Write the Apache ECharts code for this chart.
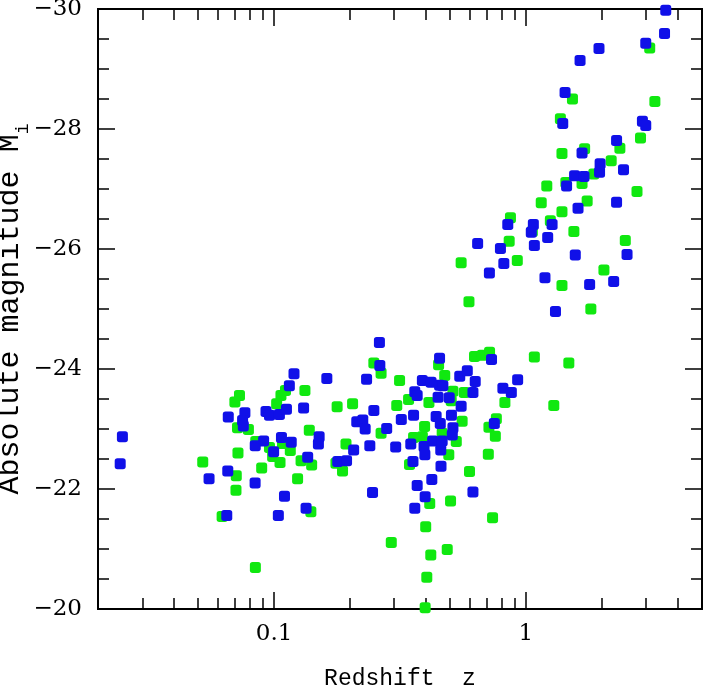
<!DOCTYPE html>
<html>
<head>
<meta charset="utf-8">
<script src="https://cdn.jsdelivr.net/npm/echarts@6/dist/echarts.min.js"></script>
<style>
    html, body { margin: 0; padding: 0; background: #ffffff; }
    #chart { width: 704px; height: 686px; }
</style>
</head>
<body>
<div id="chart"></div>
<script>
    // blue sample: redshift and absolute magnitude
    var blueZ = [0.0250, 0.0245, 0.120, 0.115, 0.0766, 0.0658, 0.0750, 0.0755, 0.0929, 0.0959,
        0.105, 0.112, 0.131, 0.107, 0.117, 0.0909, 0.0842, 0.0996, 0.136, 0.0655,
        0.0552, 0.0841, 0.110, 0.134, 0.104, 0.0649,
        0.151, 0.150, 0.162, 0.179, 0.194, 0.207, 0.213, 0.225, 0.230, 0.233,
        0.249, 0.240, 0.262, 0.263, 0.246, 0.280, 0.304, 0.320, 0.358, 0.349,
        0.356, 0.362, 0.370, 0.388, 0.420, 0.454, 0.468, 0.454, 0.394, 0.397,
        0.440, 0.457, 0.426, 0.465, 0.459, 0.460, 0.448, 0.496, 0.506, 0.513,
        0.510, 0.553, 0.546, 0.585, 0.629, 0.616, 0.423, 0.370, 0.398, 0.362,
        0.616, 0.730, 0.810, 0.875, 0.927, 0.749,
        3.59, 3.55, 2.99, 1.95, 1.64, 1.43, 1.40, 2.90, 2.99, 2.29,
        1.67, 1.97, 1.96, 1.56, 1.70, 2.44, 1.45, 1.61, 2.29, 1.27,
        0.847, 1.07, 1.05, 1.22, 1.08, 0.643, 0.792, 0.817, 0.716, 1.57,
        2.52, 1.19, 1.79, 2.23, 1.31];
    var blueM = [-22.87, -22.42, -23.92, -23.72, -23.27, -23.20, -23.14, -23.05, -23.29, -23.23,
        -23.24, -23.33, -23.35, -22.86, -22.78, -22.80, -22.72, -22.62, -22.53, -22.30,
        -22.17, -22.10, -21.88, -21.68, -21.56, -21.56,
        -22.87, -22.75, -23.84, -22.46, -22.47, -22.65, -23.12, -23.15, -23.00, -23.83,
        -23.31, -22.72, -24.44, -24.06, -21.94, -23.01, -22.70, -23.16, -23.23, -22.75,
        -22.46, -23.62, -23.56, -23.81, -23.78, -23.73, -23.72, -24.18, -22.71, -22.57,
        -23.21, -23.09, -22.80, -22.80, -22.65, -22.38, -23.53, -23.52, -23.23, -23.02,
        -22.90, -23.38, -23.88, -23.97, -23.79, -23.61, -22.16, -22.06, -21.87, -21.68,
        -21.95, -24.16, -23.68, -23.61, -23.82, -23.09,
        -29.98, -29.59, -29.43, -29.34, -29.14, -28.61, -28.09, -28.13, -28.06, -27.81,
        -27.60, -27.42, -27.28, -27.22, -27.21, -27.32, -27.05, -26.68, -26.78, -26.41,
        -26.41, -26.41, -26.28, -26.19, -26.06, -26.09, -26.01, -25.76, -25.60, -25.90,
        -25.91, -25.52, -25.41, -25.46, -24.96];

    // green sample
    var greenZ = [0.0729, 0.0699, 0.111, 0.1065, 0.1024, 0.1326, 0.0716, 0.0791, 0.138, 0.0846,
        0.0959, 0.0987, 0.1056, 0.116, 0.108, 0.0719, 0.0521, 0.0893, 0.0708, 0.0706,
        0.124, 0.128, 0.0622, 0.0843,
        0.141, 0.140, 0.178, 0.205, 0.193, 0.176, 0.187, 0.249, 0.266, 0.266,
        0.315, 0.307, 0.342, 0.292, 0.345, 0.358, 0.388, 0.396, 0.412, 0.450,
        0.476, 0.465, 0.513, 0.505, 0.558, 0.529, 0.494, 0.569, 0.625, 0.671,
        0.717, 0.597, 0.502, 0.415, 0.400, 0.419, 0.487, 0.404, 0.398, 0.709,
        0.763, 0.713, 0.756, 0.737, 0.825, 1.08, 1.48, 1.29,
        3.10, 1.53, 3.25, 1.37, 2.85, 2.36, 1.71, 1.39, 2.18, 1.86,
        1.67, 1.44, 1.21, 2.76, 1.15, 1.75, 1.39, 0.868, 1.25, 1.06,
        1.55, 0.858, 2.48, 0.924, 0.553, 2.04, 1.39, 0.594, 1.81];
    var greenM = [-23.56, -23.45, -23.64, -23.56, -23.42, -23.64, -23.02, -22.99, -22.98, -22.79,
        -22.69, -22.54, -22.44, -22.64, -22.76, -22.60, -22.45, -22.35, -22.22, -21.98,
        -22.17, -22.47, -21.54, -20.69,
        -22.40, -21.62, -23.37, -23.42, -22.75, -22.43, -22.30, -24.10, -23.93, -22.93,
        -23.81, -23.39, -23.49, -21.11, -22.41, -22.86, -22.87, -23.04, -23.44, -24.07,
        -23.89, -22.93, -23.63, -23.47, -23.13, -22.79, -22.57, -23.61, -24.21, -24.23,
        -24.28, -22.29, -21.80, -21.76, -21.37, -20.90, -20.99, -20.53, -20.02, -22.58,
        -23.17, -23.03, -22.88, -21.52, -23.44, -24.20, -24.10, -23.39,
        -29.35, -28.50, -28.46, -28.17, -27.85, -27.68, -27.67, -27.59, -27.47, -27.25,
        -27.09, -27.11, -27.05, -26.96, -26.77, -26.80, -26.62, -26.52, -26.47, -26.29,
        -26.29, -26.13, -26.14, -25.81, -25.77, -25.65, -25.39, -25.12, -25.00];

    // axis ticks
    var majorZ = [0.1, 1];
    var minorZ = [0.03, 0.04, 0.05, 0.06, 0.07, 0.08, 0.09,
        0.2, 0.3, 0.4, 0.5, 0.6, 0.7, 0.8, 0.9, 2, 3, 4];
    var xLabels = ['0.1', '1'];

    function zip(xs, ys) {
        var out = [];
        for (var i = 0; i < xs.length; i++) {
            out.push([xs[i], ys[i]]);
        }
        return out;
    }

    var tickFont = 'DejaVu Serif';
    var titleFont = 'Liberation Mono';

    function makeX(pos, ticks, len, withLabel) {
        return {
            type: 'log',
            logBase: 10,
            min: 0.02,
            max: 5,
            position: pos,
            axisLine: { show: true, lineStyle: { color: '#000', width: 2 } },
            axisTick: {
                show: true, inside: true, length: len, customValues: ticks,
                lineStyle: { color: '#000', width: 1.5 }
            },
            minorTick: { show: false },
            splitLine: { show: false },
            axisLabel: withLabel ? {
                customValues: majorZ,
                formatter: function (v) {
                    var k = majorZ.indexOf(Number(v));
                    return k >= 0 ? xLabels[k] : '';
                },
                fontFamily: tickFont, fontSize: 23, color: '#000', margin: 14
            } : { show: false }
        };
    }

    function makeY(pos, withLabel) {
        return {
            type: 'value',
            inverse: true,
            min: -30,
            max: -20,
            interval: 2,
            position: pos,
            axisLine: { show: true, lineStyle: { color: '#000', width: 2 } },
            axisTick: { show: true, inside: true, length: 17, lineStyle: { color: '#000', width: 1.5 } },
            minorTick: { show: true, splitNumber: 4, length: 11, lineStyle: { color: '#000', width: 1.5 } },
            splitLine: { show: false },
            axisLabel: withLabel ? {
                formatter: function (v) { return v < 0 ? '\u2212' + Math.abs(v) : String(v); },
                fontFamily: tickFont, fontSize: 23, color: '#000', margin: 16
            } : { show: false }
        };
    }

    var xBottom = makeX('bottom', majorZ, 17, true);
    xBottom.name = 'Redshift  z';
    xBottom.nameLocation = 'middle';
    xBottom.nameGap = 58;
    xBottom.nameMoveOverlap = false;
    xBottom.nameTextStyle = { fontFamily: titleFont, fontSize: 23, color: '#000' };

    var yLeft = makeY('left', true);
    yLeft.name = 'Absolute magnitude M{s|i}';
    yLeft.nameLocation = 'middle';
    yLeft.nameRotate = 90;
    yLeft.nameGap = 66;
    yLeft.nameMoveOverlap = false;
    yLeft.nameTextStyle = {
        fontFamily: titleFont, fontSize: 30, color: '#000',
        rich: {
            s: { fontFamily: titleFont, fontSize: 18, color: '#000', verticalAlign: 'bottom', lineHeight: 44 }
        }
    };

    var chart = echarts.init(document.getElementById('chart'));
    chart.setOption({
        backgroundColor: '#ffffff',
        animation: false,
        grid: { left: 98, right: 2, top: 9, bottom: 77, containLabel: false, outerBoundsMode: 'none' },
        xAxis: [
            xBottom,
            makeX('bottom', minorZ, 11, false),
            makeX('top', majorZ, 17, false),
            makeX('top', minorZ, 11, false)
        ],
        yAxis: [yLeft, makeY('right', false)],
        series: [
            {
                name: 'green',
                type: 'scatter',
                symbol: 'roundRect',
                symbolSize: 11,
                itemStyle: { color: '#10e810', opacity: 1 },
                data: zip(greenZ, greenM)
            },
            {
                name: 'blue',
                type: 'scatter',
                symbol: 'roundRect',
                symbolSize: 11,
                itemStyle: { color: '#1010e8', opacity: 1 },
                data: zip(blueZ, blueM)
            }
        ]
    });
</script>
</body>
</html>
